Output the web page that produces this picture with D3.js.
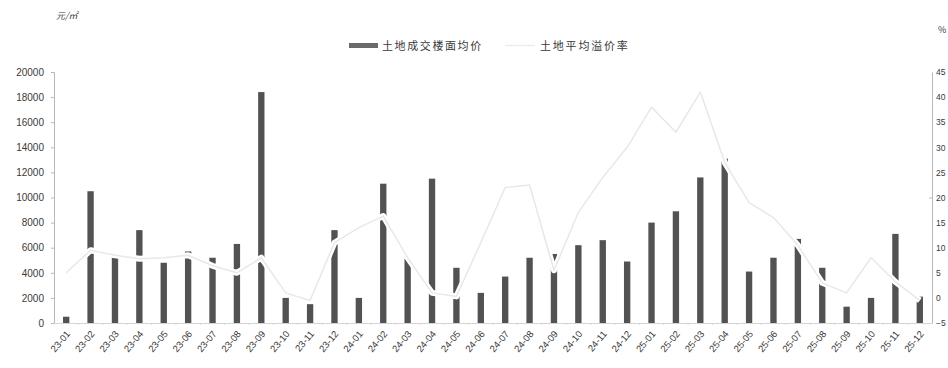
<!DOCTYPE html>
<html>
<head>
<meta charset="utf-8">
<script src="https://cdn.jsdelivr.net/npm/d3@7"></script>
<style>
  html, body { margin: 0; padding: 0; background: #fff; }
  svg { display: block; }
  text { font-family: "Noto Sans CJK SC", "DejaVu Sans", sans-serif; }
</style>
</head>
<body>
<svg id="chart" width="948" height="368"></svg>
<script>
// Months
const months = [
  "23-01","23-02","23-03","23-04","23-05","23-06","23-07","23-08","23-09","23-10","23-11","23-12",
  "24-01","24-02","24-03","24-04","24-05","24-06","24-07","24-08","24-09","24-10","24-11","24-12",
  "25-01","25-02","25-03","25-04","25-05","25-06","25-07","25-08","25-09","25-10","25-11","25-12"
];
// 土地成交楼面均价 (元/㎡)
const floorPrice = [
  500, 10500, 5200, 7400, 4800, 5700, 5200, 6300, 18400, 2000, 1500, 7400,
  2000, 11100, 5100, 11500, 4400, 2400, 3700, 5200, 5500, 6200, 6600, 4900,
  8000, 8900, 11600, 13100, 4100, 5200, 6700, 4400, 1300, 2000, 7100, 2100
];
// 土地平均溢价率 (%)
const premiumRate = [
  5, 9.5, 8.5, 7.8, 8, 8.5, 6.4, 5, 8, 1, -0.5, 11,
  14, 16.3, 8, 1, 0.3, 11, 22, 22.5, 5.5, 17, 24, 30,
  38, 33, 41, 27, 19, 16, 10.5, 3, 1, 8, 3.2, -0.5
];
const leftTicks = [0, 2000, 4000, 6000, 8000, 10000, 12000, 14000, 16000, 18000, 20000];
const rightTicks = [-5, 0, 5, 10, 15, 20, 25, 30, 35, 40, 45];
const legendLabels = ["土地成交楼面均价", "土地平均溢价率"];
const unitLeft = "元/㎡";
const unitRight = "%";

const svg = d3.select("#chart");
const plot = { left: 54, right: 932, top: 72, bottom: 323 };

const x = d3.scaleBand().domain(months).range([plot.left, plot.right]).paddingInner(0.74).paddingOuter(0.37);
const yL = d3.scaleLinear().domain([0, 20000]).range([plot.bottom, plot.top]);
const yR = d3.scaleLinear().domain([-5, 45]).range([plot.bottom, plot.top]);

const axisColor = "#b8b8b8";
const textColor = "#3a3a3a";

// Left axis
const gL = svg.append("g").attr("transform", `translate(${plot.left},0)`)
  .call(d3.axisLeft(yL).tickValues(leftTicks).tickFormat(d3.format("d")).tickSize(3).tickPadding(7));
gL.select(".domain").attr("stroke", axisColor);
gL.selectAll(".tick line").attr("stroke", axisColor);
gL.selectAll("text").attr("fill", textColor).style("font-size", "10px").style("font-family", "'Liberation Sans', Arial, sans-serif");

// Right axis (labels squeezed against the right edge)
const gR = svg.append("g").attr("transform", `translate(${plot.right},0)`)
  .call(d3.axisRight(yR).tickValues(rightTicks).tickSize(0).tickPadding(4));
gR.select(".domain").attr("stroke", axisColor);
gR.selectAll("text").attr("fill", textColor).style("font-size", "8.5px")
  .style("font-family", "'Liberation Sans Narrow', 'Liberation Sans', Arial, sans-serif");
gR.selectAll(".tick").filter(d => d === 20).append("line").attr("x1", -3).attr("x2", 0).attr("stroke", axisColor);

// Bottom axis
const gB = svg.append("g").attr("transform", `translate(0,${plot.bottom})`)
  .call(d3.axisBottom(x).tickSize(0).tickPadding(0));
gB.select(".domain").attr("stroke", "#d4d4d4");
gB.selectAll(".tick text")
  .attr("fill", textColor)
  .style("font-size", "9.5px")
  .style("font-family", "'Liberation Sans', Arial, sans-serif")
  .attr("text-anchor", "end")
  .attr("transform", "translate(2,9) rotate(-50)")
  .attr("dy", "0.35em");
// small separators between months on the baseline
svg.append("g").selectAll("line")
  .data(months.slice(1))
  .join("line")
  .attr("x1", d => x(d) - x.step() * x.paddingInner() / 2)
  .attr("x2", d => x(d) - x.step() * x.paddingInner() / 2)
  .attr("y1", plot.bottom).attr("y2", plot.bottom + 2)
  .attr("stroke", "#d4d4d4");

// Bars
svg.append("g").selectAll("rect")
  .data(floorPrice)
  .join("rect")
  .attr("x", (d, i) => x(months[i]))
  .attr("width", x.bandwidth())
  .attr("y", d => yL(d))
  .attr("height", d => yL(0) - yL(d))
  .attr("fill", "#505254");

// Premium rate line: white halo then a faint grey stroke
const line = d3.line().x((d, i) => x(months[i]) + x.bandwidth() / 2).y(d => yR(d));
svg.append("path").datum(premiumRate).attr("d", line)
  .attr("fill", "none").attr("stroke", "#ffffff").attr("stroke-width", 6).attr("stroke-linejoin", "round");
svg.append("path").datum(premiumRate).attr("d", line)
  .attr("fill", "none").attr("stroke", "#e8e8e8").attr("stroke-width", 1.5).attr("stroke-linejoin", "round");

// Legend
const lg = svg.append("g");
lg.append("rect").attr("x", 349).attr("y", 43).attr("width", 29).attr("height", 5).attr("fill", "#6a6a6a");
lg.append("text").attr("x", 382).attr("y", 46).attr("dy", "0.35em")
  .attr("fill", textColor).style("font-size", "11px").style("letter-spacing", "1.6px").text(legendLabels[0]);
lg.append("line").attr("x1", 505).attr("x2", 535).attr("y1", 45.5).attr("y2", 45.5)
  .attr("stroke", "#ececec").attr("stroke-width", 1.5);
lg.append("text").attr("x", 540).attr("y", 46).attr("dy", "0.35em")
  .attr("fill", textColor).style("font-size", "11px").style("letter-spacing", "1.8px").text(legendLabels[1]);

// Units
svg.append("text").attr("x", 56).attr("y", 19).attr("fill", textColor)
  .style("font-size", "9px").style("font-style", "italic").text(unitLeft);
svg.append("text").attr("x", 938).attr("y", 33).attr("fill", textColor)
  .style("font-size", "9px").text(unitRight);
</script>
</body>
</html>
